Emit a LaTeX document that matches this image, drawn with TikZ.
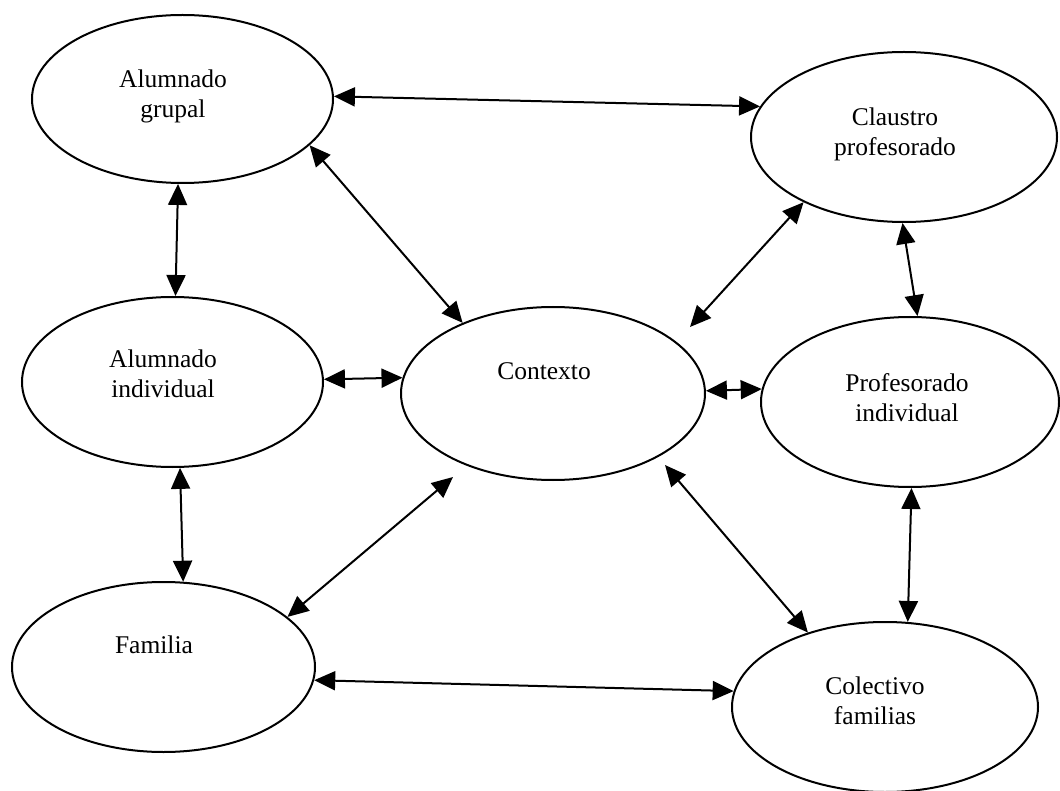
\documentclass[tikz,border=0pt]{standalone}
\usepackage{fontspec}
\setmainfont{Liberation Serif}
\usetikzlibrary{shapes.geometric,arrows.meta}
\begin{document}
\begin{tikzpicture}[x=1pt,y=-1pt,
  oval/.style={draw, ellipse, line width=2pt, inner sep=0pt},
  lbl/.style={align=center, font=\fontsize{25.5}{30}\selectfont, inner sep=0pt},
  link/.style={line width=2pt,
    {Triangle[length=21pt,width=19pt]}-{Triangle[length=21pt,width=19pt]}}]
\useasboundingbox (0,0) rectangle (1060,791);

% ellipses
\node[oval, minimum width=301pt, minimum height=168pt] (G) at (182.5,99) {};
\node[oval, minimum width=306pt, minimum height=170pt] (C) at (904,137) {};
\node[oval, minimum width=301pt, minimum height=170pt] (I) at (172.5,382) {};
\node[oval, minimum width=304pt, minimum height=173pt] (X) at (553,393.5) {};
\node[oval, minimum width=298pt, minimum height=170pt] (P) at (910,402) {};
\node[oval, minimum width=303pt, minimum height=170pt] (F) at (163.5,667) {};
\node[oval, minimum width=306pt, minimum height=170pt] (K) at (885,707) {};

% labels
\node[lbl] (tG) at (173,96) {Alumnado\\grupal};
\node[lbl] (tC) at (895,134) {Claustro\\profesorado};
\node[lbl] (tI) at (163,374) {Alumnado\\individual};
\node[lbl, anchor=base] (tX) at (544,380) {Contexto};
\node[lbl] (tP) at (907,398) {Profesorado\\individual};
\node[lbl, anchor=base] (tF) at (154,653) {Familia};
\node[lbl] (tK) at (875,701) {Colectivo\\familias};

% free arrow ends near Contexto
\coordinate (xne) at (690,327);
\coordinate (xsw) at (453,477);
\coordinate (xse) at (665,465);

% connectors
\draw[link] (G.1.5) -- (C.168.1);
\draw[link] (G.-20.3) -- (X.142.6);
\draw[link] (G.267.6) -- (I.88.3);
\draw[link] (I.1.5) -- (X.174.1);
\draw[link] (X.1.3) -- (P.175.4);
\draw[link] (C.213.3) -- (xne);
\draw[link] (C.269.3) -- (P.85.3);
\draw[link] (I.275.7) -- (F.77.2);
\draw[link] (xsw) -- (F.22);
\draw[link] (xse) -- (K.136.1);
\draw[link] (P.271.3) -- (K.75.3);
\draw[link] (F.-5.7) -- (K.174.8);
\end{tikzpicture}
\end{document}
